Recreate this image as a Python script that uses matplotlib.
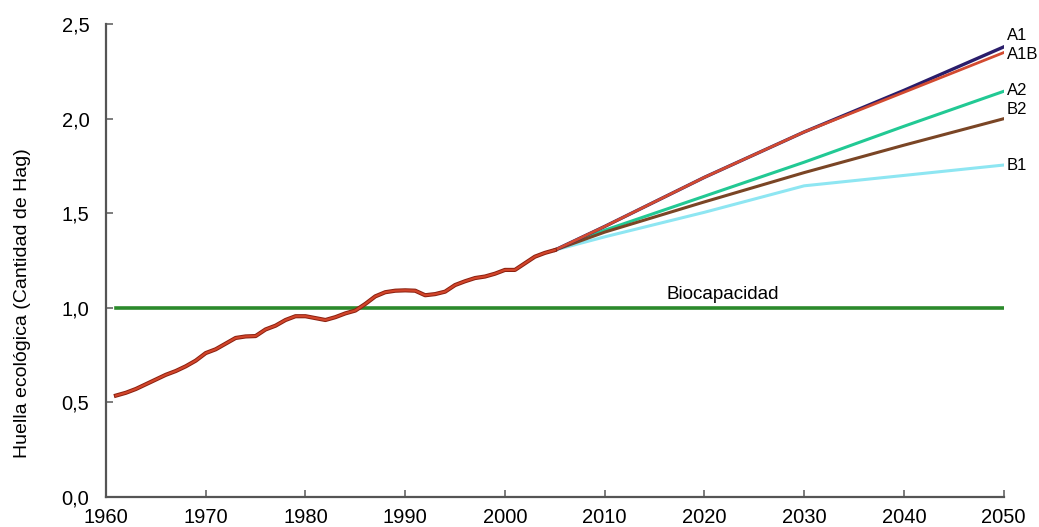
"""Huella ecológica: histórico y escenarios hasta 2050."""

import matplotlib
matplotlib.use("Agg")
import matplotlib.pyplot as plt

plt.rcParams["font.family"] = ["Liberation Sans", "DejaVu Sans"]

# Histórico 1961-2005
hist_years = list(range(1961, 2006))
hist_values = [
    0.535, 0.55, 0.57, 0.595, 0.62, 0.645, 0.665, 0.69, 0.72, 0.76,
    0.78, 0.81, 0.84, 0.848, 0.85, 0.885, 0.905, 0.935, 0.955, 0.955,
    0.945, 0.935, 0.95, 0.97, 0.985, 1.02, 1.06, 1.082, 1.09, 1.092,
    1.09, 1.066, 1.072, 1.085, 1.12, 1.14, 1.157, 1.165, 1.18, 1.2,
    1.2, 1.235, 1.27, 1.29, 1.305,
]

# Escenarios 2005-2050
proj_years = [2005, 2010, 2020, 2030, 2040, 2050]
a1_values = [1.305, 1.43, 1.69, 1.93, 2.15, 2.38]
a1b_values = [1.305, 1.43, 1.69, 1.93, 2.14, 2.35]
a2_values = [1.305, 1.41, 1.59, 1.77, 1.96, 2.145]
b2_values = [1.305, 1.40, 1.56, 1.715, 1.86, 2.0]
b1_years = [2005, 2010, 2020, 2030, 2040, 2050]
b1_values = [1.305, 1.375, 1.505, 1.645, 1.70, 1.755]

biocap_years = [1961, 2050]
biocap_values = [1.0, 1.0]

x_ticks = list(range(1960, 2051, 10))
y_ticks = [0.0, 0.5, 1.0, 1.5, 2.0, 2.5]
y_labels = ["0,0", "0,5", "1,0", "1,5", "2,0", "2,5"]

fig = plt.figure(figsize=(10.39, 5.27), dpi=100)
ax = fig.add_axes([0.102, 0.0575, 0.864, 0.8965])

ax.plot(biocap_years, biocap_values, color="#2b8a2b", linewidth=2.6, zorder=2)
ax.plot(proj_years, a2_values, color="#22c994", linewidth=2.2, zorder=3)
ax.plot(b1_years, b1_values, color="#8ee6f2", linewidth=2.2, zorder=3)
ax.plot(proj_years, b2_values, color="#7a4525", linewidth=2.2, zorder=3)
ax.plot(proj_years, a1_values, color="#2a1d6b", linewidth=2.4, zorder=4)
ax.plot(proj_years, a1b_values, color="#d24a30", linewidth=2.0, zorder=5)
ax.plot(hist_years, hist_values, color="#8a2010", linewidth=3.0, zorder=6)
ax.plot(hist_years, hist_values, color="#d2452a", linewidth=1.6, zorder=7)

ax.text(2021.8, 1.07, "Biocapacidad", fontsize=13.6, ha="center", va="center")
for label, yv in [("A1", 2.44), ("A1B", 2.34), ("A2", 2.15), ("B2", 2.05), ("B1", 1.75)]:
    ax.text(2050.3, yv, label, fontsize=12, ha="left", va="center")

ax.set_xlim(1960, 2050)
ax.set_ylim(0, 2.5)
ax.set_xticks(x_ticks)
ax.set_yticks(y_ticks)
ax.set_yticklabels(y_labels)
ax.tick_params(direction="in", length=5, width=1.2, color="#666666",
               labelsize=14.5)
ax.tick_params(axis="y", pad=12)
ax.tick_params(axis="x", pad=8)
for side in ("top", "right"):
    ax.spines[side].set_visible(False)
for side in ("left", "bottom"):
    ax.spines[side].set_color("#555555")
    ax.spines[side].set_linewidth(1.6)
ax.set_ylabel("Huella ecológica (Cantidad de Hag)", fontsize=14)
ax.yaxis.set_label_coords(-0.084, 0.41)

fig.savefig("out.png", dpi=100)
